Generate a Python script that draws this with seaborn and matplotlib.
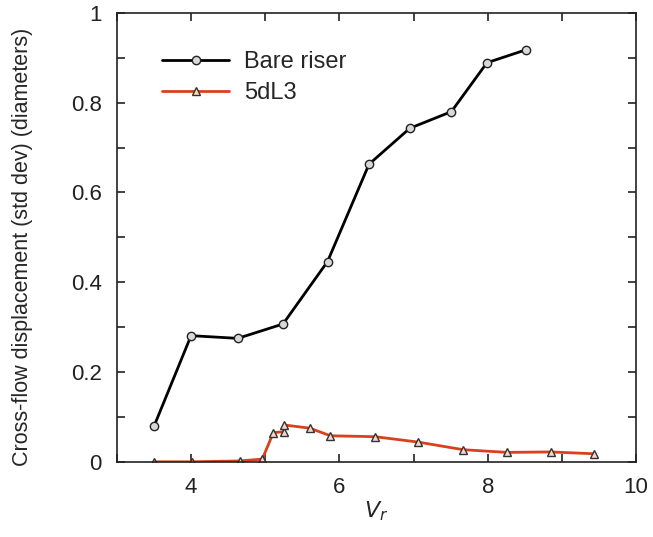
import pandas as pd
import matplotlib
matplotlib.use("Agg")
import matplotlib.pyplot as plt
import seaborn as sns
from matplotlib.ticker import MultipleLocator

# Bare riser
vr_bare = [3.50, 4.00, 4.63, 5.24, 5.84, 6.40, 6.95, 7.51, 7.99, 8.52]
disp_bare = [0.079, 0.281, 0.275, 0.307, 0.446, 0.663, 0.743, 0.780, 0.889, 0.918]

# 5dL3
vr_5dl3 = [3.50, 4.01, 4.66, 4.96, 5.11, 5.25, 5.26, 5.60, 5.88, 6.48, 7.06, 7.67, 8.26, 8.85, 9.43]
disp_5dl3 = [0.0, 0.0, 0.002, 0.006, 0.065, 0.067, 0.082, 0.075, 0.058, 0.056, 0.044, 0.027, 0.021, 0.022, 0.018]

bare = pd.DataFrame({"Vr": vr_bare, "disp": disp_bare})
sdl = pd.DataFrame({"Vr": vr_5dl3, "disp": disp_5dl3})

sns.set_style("ticks")
plt.rcParams["font.family"] = ["Liberation Sans", "DejaVu Sans"]

fig = plt.figure(figsize=(6.53, 5.37), dpi=100)
ax = fig.add_axes([0.179, 0.140, 0.795, 0.836])

sns.lineplot(data=bare, x="Vr", y="disp", ax=ax, color="black", lw=2.0,
             marker="o", markersize=6, markerfacecolor="#d8d8d8",
             markeredgecolor="#222222", markeredgewidth=1.0,
             sort=False, label="Bare riser")
sns.lineplot(data=sdl, x="Vr", y="disp", ax=ax, color="#d9411c", lw=2.0,
             marker="^", markersize=6, markerfacecolor="#f3d7cc",
             markeredgecolor="#333333", markeredgewidth=1.0,
             sort=False, label="5dL3")

ax.set_xlim(3, 10)
ax.set_ylim(0, 1)
ax.xaxis.set_major_locator(MultipleLocator(2))
ax.xaxis.set_minor_locator(MultipleLocator(1))
ax.yaxis.set_major_locator(MultipleLocator(0.2))
ax.yaxis.set_minor_locator(MultipleLocator(0.1))
ax.yaxis.set_major_formatter(plt.FuncFormatter(lambda v, p: f"{v:g}"))
ax.tick_params(which="both", direction="in", top=True, right=True,
               length=6, width=1.2, labelsize=16, pad=11, colors="#222222")
for s in ax.spines.values():
    s.set_linewidth(1.2)
    s.set_color("#222222")

ax.set_xlabel("$V_r$", fontsize=16, labelpad=1)
ax.set_ylabel("Cross-flow displacement (std dev) (diameters)", fontsize=15.5)
ax.yaxis.set_label_coords(-0.162, 0.479)

leg = ax.legend(loc="upper left", frameon=False, fontsize=17,
                bbox_to_anchor=(0.087, 0.915), borderaxespad=0, borderpad=0,
                handlelength=2.85, handletextpad=0.64, labelspacing=0.4)

fig.savefig("out.png", dpi=100)
